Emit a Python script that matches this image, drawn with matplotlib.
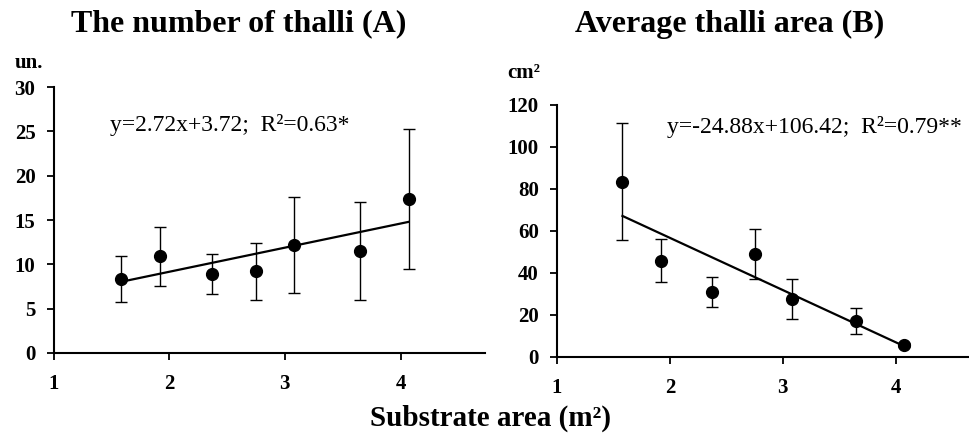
import matplotlib.pyplot as plt
import numpy as np

plt.rcParams['font.family'] = ['Liberation Serif', 'DejaVu Serif']

# substrate area (m2) of the sampled plots
area = [1.58, 1.92, 2.37, 2.75, 3.08, 3.65, 4.07]

# (A) number of thalli, mean and error
n_thalli = [8.3, 10.9, 8.9, 9.2, 12.2, 11.5, 17.4]
n_err = [2.6, 3.35, 2.3, 3.25, 5.4, 5.5, 7.9]

# (B) average thallus area, cm2
thal_area = [83.4, 45.8, 31.0, 49.0, 27.5, 17.0, 5.6]
thal_err = [28.0, 10.2, 7.2, 12.0, 9.7, 6.2, 1.0]

# regression coefficients
fit_a = (2.72, 3.72)
fit_b = (-24.88, 106.42)

fig = plt.figure(figsize=(9.69, 4.36), dpi=100, facecolor='white')
axA = fig.add_axes([53.5/969, 1-353/436, (485-53.5)/969, (353-87)/436])
axB = fig.add_axes([557/969, 1-356.7/436, (969-557)/969, (356.7-105)/436])


def panel(ax, y, err, fit, ymax, ystep, xmax):
    ax.errorbar(area, y, yerr=err, fmt='o', color='black', ms=8.5,
                ecolor='black', elinewidth=1.0, capsize=4, capthick=1.0)
    xs = np.array([area[0], area[-1]])
    ax.plot(xs, fit[0]*xs + fit[1], color='black', lw=1.6)
    ax.set_xlim(1, xmax)
    ax.set_ylim(0, ymax)
    ax.set_xticks([1, 2, 3, 4])
    ax.set_yticks(np.arange(0, ymax + 1, ystep))
    for s in ['top', 'right']:
        ax.spines[s].set_visible(False)
    for s in ['left', 'bottom']:
        ax.spines[s].set_linewidth(1.5)
    ax.tick_params(axis='both', direction='out', length=5, width=1.3,
                   labelsize=15)
    ax.tick_params(axis='x', pad=10)
    ax.tick_params(axis='y', pad=8)
    for lab in ax.get_xticklabels() + ax.get_yticklabels():
        lab.set_fontweight('bold')
    ax.patch.set_alpha(0)


panel(axA, n_thalli, n_err, fit_a, 30, 5, 4.73)
panel(axB, thal_area, thal_err, fit_b, 120, 20, 4.65)

fig.text(110/969, 1-125/436, 'y=2.72x+3.72;  R²=0.63*', fontsize=17,
         va='center')
fig.text(667/969, 1-127/436, 'y=-24.88x+106.42;  R²=0.79**', fontsize=17,
         va='center')

fig.text(239/969, 1-24/436, 'The number of thalli (A)', ha='center',
         va='center', fontsize=23, fontweight='bold')
fig.text(730/969, 1-24/436, 'Average thalli area (B)', ha='center',
         va='center', fontsize=23, fontweight='bold')
fig.text(29/969, 1-63/436, 'un.', ha='center', va='center',
         fontsize=15, fontweight='bold')
fig.text(524/969, 1-73/436, 'cm²', ha='center', va='center',
         fontsize=15, fontweight='bold')
fig.text(490/969, 1-418/436, 'Substrate area (m²)', ha='center',
         va='center', fontsize=21, fontweight='bold')

fig.savefig('out.png', dpi=100, facecolor='white')
